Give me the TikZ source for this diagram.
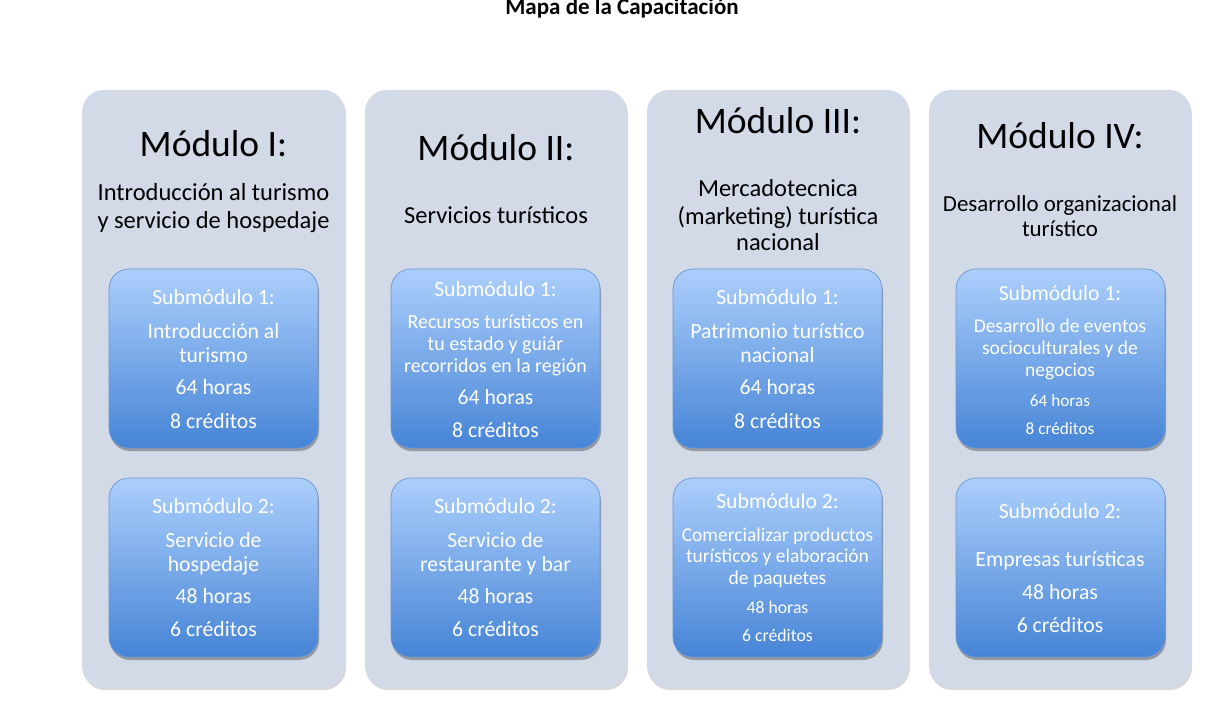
\documentclass[tikz,border=0pt]{standalone}
\usepackage{fontspec}
\setmainfont{Carlito}
\usetikzlibrary{shadows}
\definecolor{colbg}{RGB}{211,218,231}
\definecolor{subtop}{RGB}{172,207,252}
\definecolor{subbot}{RGB}{70,132,214}
\definecolor{subline}{RGB}{105,150,215}
\tikzset{
  modbox/.style={fill=colbg, draw=none, rounded corners=22pt,
    drop shadow={shadow xshift=1pt, shadow yshift=-2pt, opacity=0.25, fill=black!60}},
  subbox/.style={top color=subtop, bottom color=subbot, draw=subline, line width=0.7pt,
    rounded corners=20pt,
    drop shadow={shadow xshift=1pt, shadow yshift=-3pt, opacity=0.45, fill=black!70}},
  dark/.style={anchor=mid, inner sep=0pt, text=black},
  light/.style={anchor=mid, inner sep=0pt, text=white},
}
% \blk{prefix}{style}{x}{list of y/size/text}; y is shifted by \dy
\newcommand\dy{6}
\newcommand\blk[4]{%
  \foreach \yy/\ss/\tt [count=\k] in {#4}
    {\node[#2, font=\fontsize{\ss}{\ss}\selectfont] (#1-\k) at (#3,\yy+\dy) {\tt};}}
\begin{document}
\begin{tikzpicture}[x=1pt,y=-1pt]
\useasboundingbox (0,0) rectangle (1222,711);
\node[anchor=base, inner sep=0pt, font=\fontsize{23}{23}\selectfont\bfseries] (title) at (622,15) {Mapa de la Capacitación};

% module columns
\draw[modbox] (82,90) rectangle (345,688);
\draw[modbox] (365,90) rectangle (627,688);
\draw[modbox] (647,90) rectangle (909,688);
\draw[modbox] (929,90) rectangle (1191,688);

% submodule boxes
\foreach \xl in {109,391,673,956}{
  \draw[subbox] (\xl,269) rectangle ++(209,179);
  \draw[subbox] (\xl,478) rectangle ++(209,179);
}

% Module headings
\blk{hA}{dark}{213.5}{148/37.5/Módulo I:}
\blk{hB}{dark}{496}{152/37.5/Módulo II:}
\blk{hC}{dark}{778}{125/37.5/Módulo III:}
\blk{hD}{dark}{1060}{140/37.5/Módulo IV:}

% Module I
\blk{mA}{dark}{213.5}{192/24.5/Introducción al turismo, 220/24.5/y servicio de hospedaje}
\blk{sA1}{light}{213.5}{296/21.7/Submódulo 1:, 330/21.7/Introducción al, 354/21.7/turismo, 386/21.7/64 horas, 420/21.7/8 créditos}
\blk{sA2}{light}{213.5}{505/21.7/Submódulo 2:, 539/21.7/Servicio de, 563/21.7/hospedaje, 595/21.7/48 horas, 628/21.7/6 créditos}

% Module II
\blk{mB}{dark}{496}{215/24.5/Servicios turísticos}
\blk{sB1}{light}{495.5}{288/21.7/Submódulo 1:, 320/20/Recursos turísticos en, 342/20/tu estado y guiár, 364/20/recorridos en la región, 396/21.7/64 horas, 429/21.7/8 créditos}
\blk{sB2}{light}{495.5}{505/21.7/Submódulo 2:, 539/21.7/Servicio de, 563/21.7/restaurante y bar, 595/21.7/48 horas, 628/21.7/6 créditos}

% Module III
\blk{mC}{dark}{778}{188/24.5/Mercadotecnica, 216/24.5/(marketing) turística, 242/24.5/nacional}
\blk{sC1}{light}{777.5}{296/21.7/Submódulo 1:, 330/21.7/Patrimonio turístico, 354/21.7/nacional, 386/21.7/64 horas, 420/21.7/8 créditos}
\blk{sC2}{light}{777.5}{500/21.7/Submódulo 2:, 533/19.5/Comercializar productos, 554/19.5/turísticos y elaboración, 576/19.5/de paquetes, 605/17.7/48 horas, 633/17.7/6 créditos}

% Module IV
\blk{mD}{dark}{1060}{203/22.9/Desarrollo organizacional, 228/22.9/turístico}
\blk{sD1}{light}{1060}{292/21.7/Submódulo 1:, 324/19.5/Desarrollo de eventos, 346/19.5/socioculturales y de, 368/19.5/negocios, 398/17.2/64 horas, 426/17.2/8 créditos}
\blk{sD2}{light}{1060}{510/21.7/Submódulo 2:, 558/21.7/Empresas turísticas, 591/21.7/48 horas, 624/21.7/6 créditos}
\end{tikzpicture}
\end{document}
